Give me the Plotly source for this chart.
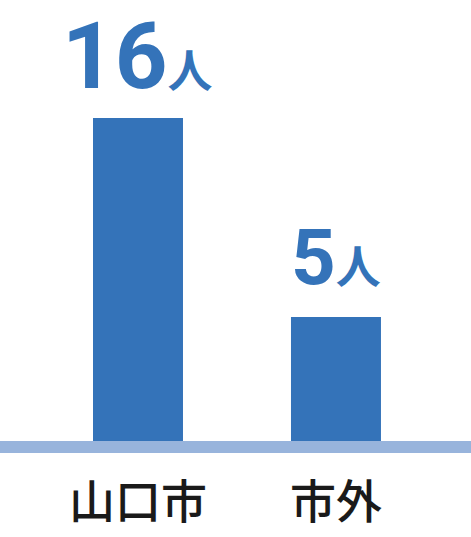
import plotly.graph_objects as go

categories = ["山口市", "市外"]
values = [16, 5]
unit = "人"

# styling per label
digit_sizes = [92, 78]
label_yshift = [6, 12]

BAR_COLOR = "#3473b9"
BASE_COLOR = "#98b4dc"
BASE = -1.85

fig = go.Figure()
fig.add_trace(go.Bar(
    x=categories, y=[v - BASE for v in values], base=BASE,
    marker=dict(color=BAR_COLOR, line=dict(width=0)),
    width=0.4545, hoverinfo="skip",
))

for c, v, ds, ys in zip(categories, values, digit_sizes, label_yshift):
    fig.add_annotation(
        x=c, y=v, xref="x", yref="y", yanchor="bottom", showarrow=False,
        text=f"<span style='font-size:{ds}px;font-family:Roboto;font-weight:bold'>{v}</span>"
             f"<span style='font-size:45px;font-family:Noto Sans CJK JP;font-weight:bold'>{unit}</span>",
        font=dict(color=BAR_COLOR, size=45, family="Roboto"),
        yshift=ys,
    )

fig.add_shape(type="rect", xref="paper", yref="paper", x0=0, x1=1,
              y0=-12 / 441, y1=0, fillcolor=BASE_COLOR, line=dict(width=0), layer="below")

fig.update_layout(
    width=471, height=537,
    margin=dict(l=0, r=0, t=0, b=96),
    paper_bgcolor="white", plot_bgcolor="white",
    showlegend=False,
    xaxis=dict(range=[-0.697, 1.682], showgrid=False, zeroline=False, showline=False,
               ticks="", tickfont=dict(size=46, color="#1a1a1a", family="Noto Sans CJK JP", weight=500),
               ticklabelstandoff=30),
    yaxis=dict(range=[BASE, 22.53], visible=False),
)
fig.write_html("out.html", config={"displayModeBar": False},
               post_script="document.body.style.margin='0';document.body.style.overflow='hidden';")
